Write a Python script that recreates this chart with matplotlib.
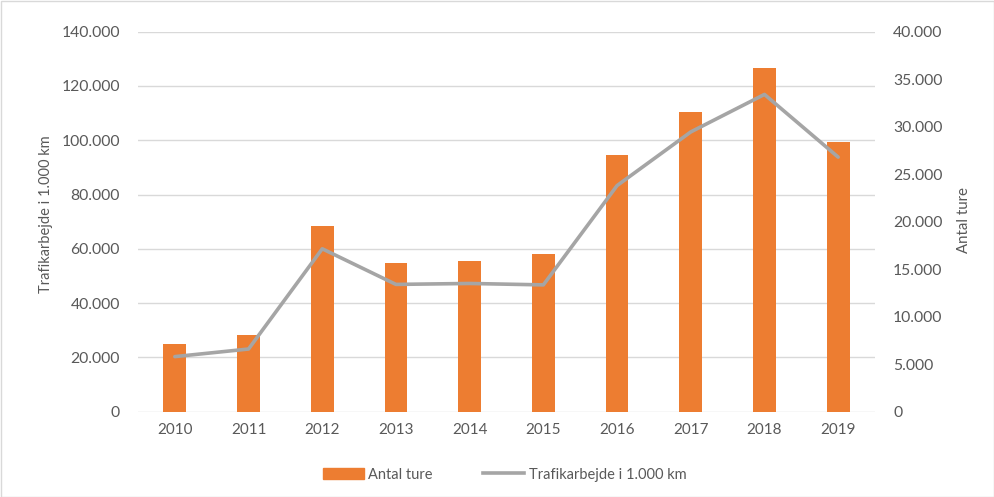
import matplotlib
matplotlib.use("Agg")
import matplotlib.pyplot as plt
from matplotlib.ticker import FuncFormatter, MultipleLocator
from matplotlib.patches import Rectangle
from matplotlib.lines import Line2D
from matplotlib.patches import Patch

years = ["2010", "2011", "2012", "2013", "2014", "2015", "2016", "2017", "2018", "2019"]
antal_ture = [25000, 28300, 68400, 54700, 55400, 58100, 94500, 110400, 126500, 99400]
trafikarbejde = [5800, 6600, 17150, 13400, 13500, 13350, 23800, 29450, 33400, 26800]

plt.rcParams['font.family'] = ['Lato', 'DejaVu Sans']
txt = '#595959'

W, H = 995, 497
fig = plt.figure(figsize=(9.95, 4.97), dpi=100)
ax = fig.add_axes([0.1387, 0.1716, 0.7407, 0.7646])
ax2 = ax.twinx()

x = list(range(len(years)))
ax.bar(x, antal_ture, width=0.31, color='#ed7d31', zorder=3)
ax2.plot(x, trafikarbejde, color='#a5a5a5', linewidth=2.6, solid_capstyle='round', zorder=4)

fmt = FuncFormatter(lambda v, p: f"{int(v):,}".replace(",", "."))
ax.set_ylim(0, 140000)
ax.yaxis.set_major_locator(MultipleLocator(20000))
ax.yaxis.set_major_formatter(fmt)
ax2.set_ylim(0, 40000)
ax2.yaxis.set_major_locator(MultipleLocator(5000))
ax2.yaxis.set_major_formatter(fmt)
ax.set_xlim(-0.5, 9.5)
ax.set_xticks(x)
ax.set_xticklabels(years)

ax.grid(axis='y', color='#d9d9d9', linewidth=1.0, zorder=0)
ax.set_axisbelow(True)
for a in (ax, ax2):
    for s in a.spines.values():
        s.set_visible(False)
    a.tick_params(length=0, colors=txt, labelsize=11.3)
ax.tick_params(axis='y', pad=13)
ax2.tick_params(axis='y', pad=13)
ax.tick_params(axis='x', pad=8, labelsize=11)

fig.text(46.5 / W, 1 - 214 / H, "Trafikarbejde i 1.000 km", rotation=90,
         ha='center', va='center', color=txt, fontsize=10.5)
fig.text(964 / W, 1 - 220 / H, "Antal ture", rotation=90,
         ha='center', va='center', color=txt, fontsize=10.8)

handles = [Patch(color='#ed7d31'), Line2D([0], [0], color='#a5a5a5', linewidth=2.6)]
fig.legend(handles, ["Antal ture", "Trafikarbejde i 1.000 km"], loc='center',
           bbox_to_anchor=(0.507, 0.045), ncol=2, frameon=False, fontsize=10.5,
           labelcolor=txt, handlelength=2.8, handleheight=0.8, columnspacing=3.5,
           handletextpad=0.3)

fig.patches.append(Rectangle((0.001, 0.001), 0.998, 0.997, transform=fig.transFigure,
                             fill=False, edgecolor='#d9d9d9', linewidth=1))

fig.savefig("out.png", dpi=100, facecolor='white')
